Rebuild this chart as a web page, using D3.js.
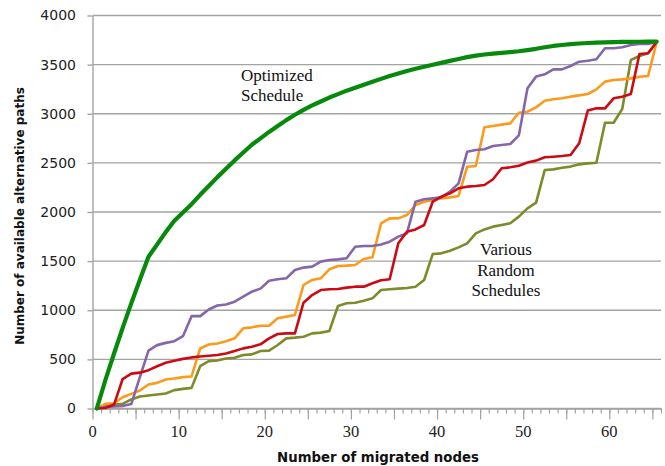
<!DOCTYPE html>
<html><head><meta charset="utf-8">
<script src="https://cdn.jsdelivr.net/npm/d3@7"></script>
<style>body{margin:0;background:#fff}svg{display:block}.serif{font-family:"Liberation Serif","Times New Roman",Times,"DejaVu Serif",serif}</style>
</head><body><svg id="c" width="665" height="466"></svg>
<script>
// ---- data ----
const nodes = [0,1,2,3,4,5,6,7,8,9,10,11,12,13,14,15,16,17,18,19,20,21,22,23,24,25,26,27,28,29,30,31,32,33,34,35,36,37,38,39,40,41,42,43,44,45,46,47,48,49,50,51,52,53,54,55,56,57,58,59,60,61,62,63,64,65];
const yTickValues = [0,500,1000,1500,2000,2500,3000,3500,4000];
const xTickLabels = [0,10,20,30,40,50,60];
const optimized = [0,290,560,820,1070,1310,1545,1670,1795,1910,1995,2080,2175,2265,2355,2440,2525,2605,2685,2750,2815,2875,2935,2990,3040,3085,3125,3165,3200,3235,3265,3295,3325,3355,3385,3410,3435,3458,3478,3498,3518,3538,3558,3576,3592,3603,3612,3620,3628,3636,3648,3661,3677,3690,3700,3708,3715,3720,3724,3727,3729,3731,3732,3733,3734,3735];
const randomOlive = [0,34,41,47,92,122,132,143,153,187,200,210,431,482,489,509,517,545,551,585,589,646,714,721,731,765,772,789,1043,1071,1077,1097,1121,1206,1213,1220,1227,1240,1308,1572,1579,1606,1640,1681,1783,1823,1851,1868,1885,1953,2037,2095,2427,2434,2451,2462,2485,2495,2502,2909,2909,3048,3547,3588,3615,3730];
const randomOrange = [0,47,54,115,149,183,244,261,295,305,319,326,611,651,662,685,714,816,826,843,843,918,935,952,1257,1308,1325,1417,1451,1454,1461,1522,1539,1884,1935,1935,1969,2071,2105,2122,2139,2149,2163,2461,2468,2862,2875,2889,2902,3010,3021,3065,3133,3147,3157,3174,3187,3201,3248,3327,3343,3350,3360,3377,3384,3730];
const randomPurple = [0,15,22,25,45,320,590,645,668,685,736,940,940,1008,1048,1058,1087,1138,1189,1220,1301,1315,1325,1410,1434,1444,1495,1512,1518,1529,1647,1654,1654,1670,1698,1749,1783,2105,2129,2139,2149,2207,2292,2614,2631,2638,2672,2682,2692,2780,3259,3378,3401,3452,3452,3486,3530,3540,3554,3666,3666,3676,3700,3710,3710,3730];
const randomRed = [0,5,40,300,355,365,390,430,465,485,505,520,530,537,545,560,585,612,629,653,714,758,765,765,1077,1155,1206,1213,1216,1230,1240,1240,1274,1305,1315,1681,1800,1823,1868,2105,2156,2190,2241,2258,2265,2275,2333,2445,2455,2470,2503,2523,2557,2563,2570,2580,2699,3032,3055,3055,3157,3174,3201,3608,3615,3730];
const seriesNames = ["olive","orange","purple","red","optimized"];
const seriesColors = ["#7f8a2a","#fb9a1c","#8566a8","#cc0a14","#078a0c"];
const seriesWidths = [2.6,2.6,2.6,2.6,4.2];
const seriesData = [randomOlive, randomOrange, randomPurple, randomRed, optimized];
const xTitle = "Number of migrated nodes";
const yTitle = "Number of available alternative paths";
const noteOptimized = ["Optimized","Schedule"];
const noteRandom = ["Various","Random","Schedules"];

// ---- chart ----
const svg = d3.select("#c");
const x = d3.scaleLinear().domain([0, 66]).range([92.5, 661]);
const y = d3.scaleLinear().domain([0, 4000]).range([408.5, 15.5]);
const grid = "#a3a3a3";

// horizontal gridlines
svg.append("g").selectAll("line").data(yTickValues).join("line")
  .attr("x1", x(0)).attr("x2", x(66))
  .attr("y1", d => y(d)).attr("y2", d => y(d))
  .attr("stroke", grid).attr("stroke-width", 1.4);

// y axis
const yAxis = svg.append("g").attr("transform", `translate(${x(0)},0)`)
  .call(d3.axisLeft(y).tickValues(yTickValues).tickFormat(d3.format("d"))
    .tickSize(5).tickSizeOuter(0).tickPadding(11.5));
yAxis.select(".domain").attr("stroke", grid).attr("stroke-width", 1.4);
yAxis.selectAll(".tick line").attr("stroke", grid).attr("stroke-width", 1.4);
yAxis.selectAll("text").attr("font-family", "DejaVu Sans").attr("font-size", 14).attr("fill", "#222");

// x axis minor & major ticks
const minorTicks = nodes.concat([66]);
const xMinor = svg.append("g").attr("transform", `translate(0,${y(0)})`)
  .call(d3.axisBottom(x).tickValues(minorTicks).tickSize(5).tickSizeOuter(0).tickFormat(""));
xMinor.select(".domain").attr("stroke", grid).attr("stroke-width", 1.4);
xMinor.selectAll(".tick line").attr("stroke", grid).attr("stroke-width", 1.2);
const xMajor = svg.append("g").attr("transform", `translate(0,${y(0)})`)
  .call(d3.axisBottom(x).tickValues(minorTicks.filter(d => d % 5 === 0)).tickSize(11).tickSizeOuter(0).tickFormat(""));
xMajor.select(".domain").remove();
xMajor.selectAll(".tick line").attr("stroke", grid).attr("stroke-width", 1.2);

svg.append("g").selectAll("text").data(xTickLabels).join("text")
  .attr("class", "serif")
  .attr("x", d => x(d)).attr("y", 437)
  .attr("text-anchor", "middle")
  .attr("font-size", 16.5).attr("fill", "#222")
  .text(d => d);

// series lines
const line = d3.line().x((d, i) => x(nodes[i] + 0.5)).y(d => y(d));
svg.append("g").selectAll("path").data(seriesData).join("path")
  .attr("d", d => line(d))
  .attr("fill", "none")
  .attr("stroke", (d, i) => seriesColors[i])
  .attr("stroke-width", (d, i) => seriesWidths[i])
  .attr("stroke-linejoin", "round").attr("stroke-linecap", "round");

// axis titles
svg.append("text").attr("x", 378).attr("y", 462).attr("text-anchor", "middle")
  .attr("font-family", "DejaVu Sans").attr("font-weight", "bold").attr("font-size", 13.3)
  .attr("fill", "#111").text(xTitle);
svg.append("text").attr("transform", "translate(24,216) rotate(-90)").attr("text-anchor", "middle")
  .attr("font-family", "DejaVu Sans").attr("font-weight", "bold").attr("font-size", 12)
  .attr("fill", "#111").text(yTitle);

// annotations
svg.append("g").selectAll("text").data(noteOptimized).join("text")
  .attr("class", "serif")
  .attr("x", 241).attr("y", (d, i) => 81 + i * 20)
  .attr("font-size", 17).attr("fill", "#111")
  .text(d => d);
svg.append("g").selectAll("text").data(noteRandom).join("text")
  .attr("class", "serif")
  .attr("x", 506).attr("y", (d, i) => 255 + i * 20.5).attr("text-anchor", "middle")
  .attr("font-size", 17).attr("fill", "#111")
  .text(d => d);
</script></body></html>
